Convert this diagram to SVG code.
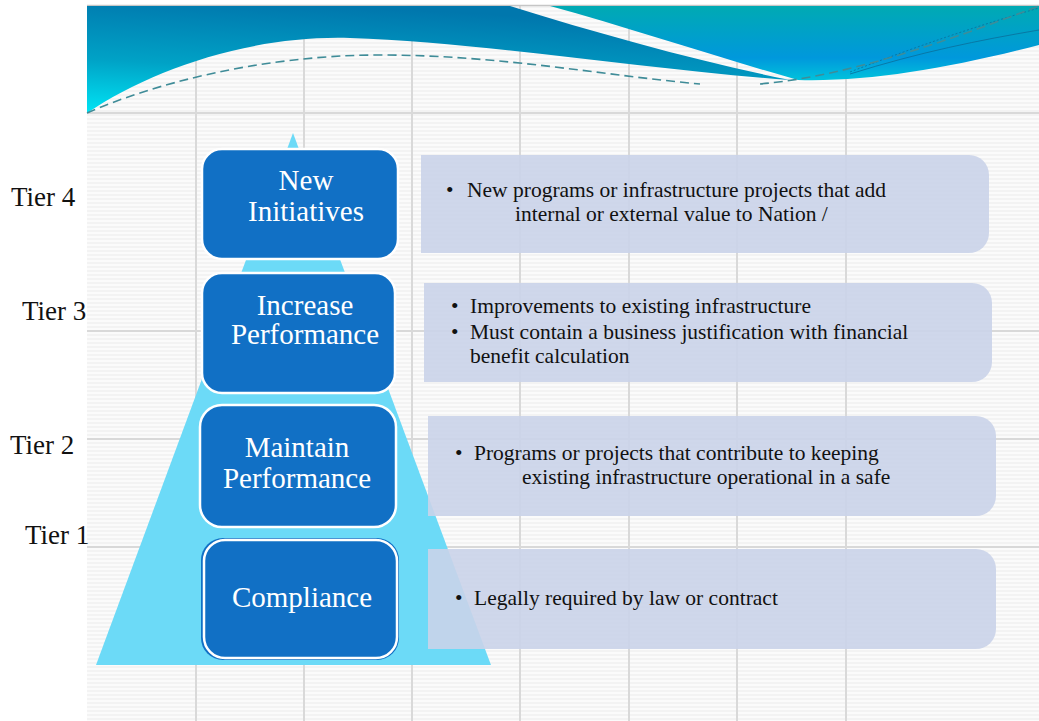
<svg xmlns="http://www.w3.org/2000/svg" width="1039" height="721" viewBox="0 0 1039 721">
  <defs>
    <pattern id="stripes" width="8" height="4" patternUnits="userSpaceOnUse">
      <rect width="8" height="4" fill="#fbfbfb"/>
      <rect y="2" width="8" height="2" fill="#f3f3f3"/>
    </pattern>
    <linearGradient id="waveLeft" x1="0.35" y1="0" x2="0" y2="1">
      <stop offset="0" stop-color="#0077ad"/>
      <stop offset="0.55" stop-color="#00a2c6"/>
      <stop offset="1" stop-color="#00e4f4"/>
    </linearGradient>
    <linearGradient id="waveRight" gradientUnits="userSpaceOnUse" x1="0" y1="6" x2="0" y2="80">
      <stop offset="0" stop-color="#00aab3"/>
      <stop offset="0.7" stop-color="#0098dc"/>
      <stop offset="1" stop-color="#00c2dc"/>
    </linearGradient>
    <style>
      .grid { stroke: #d9d9d9; stroke-width: 2; fill: none; }
      .tier { font-family: "Liberation Serif", "DejaVu Serif", serif; font-size: 27px; fill: #111; }
      .node rect.box { fill: #1170c5; stroke: #ffffff; stroke-width: 2.5; }
      .node text { font-family: "Liberation Serif", "DejaVu Serif", serif; font-size: 29px; fill: #ffffff; text-anchor: middle; }
      .desc path { fill: #cad3e9; fill-opacity: 0.9; }
      .desc text { font-family: "Liberation Serif", "DejaVu Serif", serif; font-size: 21.5px; fill: #111; }
    </style>
  </defs>

  <!-- page -->
  <rect width="1039" height="721" fill="#ffffff"/>
  <rect x="87" y="6" width="952" height="715" fill="url(#stripes)"/>

  <!-- grid -->
  <g id="grid">
    <line class="grid" x1="196" y1="6" x2="196" y2="721"/>
    <line class="grid" x1="304" y1="6" x2="304" y2="721"/>
    <line class="grid" x1="412" y1="6" x2="412" y2="721"/>
    <line class="grid" x1="520" y1="6" x2="520" y2="721"/>
    <line class="grid" x1="629" y1="6" x2="629" y2="721"/>
    <line class="grid" x1="737" y1="6" x2="737" y2="721"/>
    <line class="grid" x1="846" y1="6" x2="846" y2="721"/>
    <line class="grid" x1="87" y1="113" x2="1039" y2="113"/>
    <line class="grid" x1="87" y1="331" x2="1039" y2="331"/>
    <line class="grid" x1="87" y1="439" x2="1039" y2="439"/>
    <line class="grid" x1="87" y1="547" x2="1039" y2="547"/>
  </g>

  <!-- header waves -->
  <g id="banner">
    <line x1="87" y1="5.5" x2="1039" y2="5.5" stroke="#c6c6c6" stroke-width="1.5"/>
    <path d="M87,6 H510 C600,34 700,62 790,80 C650,70 480,42 350,38 C250,35 150,70 87,113 Z" fill="url(#waveLeft)"/>
    <path d="M550,6 H1039 V45 C950,68 870,82 798,80 C720,58 630,28 550,6 Z" fill="url(#waveRight)"/>
    <path d="M850,74 C920,52 980,40 1039,30" fill="none" stroke="#0a6f9a" stroke-width="0.8"/>
    <path d="M850,72 C920,45 980,25 1039,8" fill="none" stroke="#0a6f9a" stroke-width="0.8" stroke-dasharray="2 2"/>
    <path d="M87,113 C150,85 260,55 380,55 C500,55 600,75 700,84 M760,84 C850,76 950,40 1039,6" fill="none" stroke="#3f8c98" stroke-width="1.6" stroke-dasharray="9 5"/>
  </g>

  <!-- pyramid -->
  <polygon id="pyramid" points="293,133 491,665 96,665" fill="#6cdaf7"/>

  <!-- tier labels -->
  <g id="tiers">
    <text class="tier" x="11" y="206">Tier 4</text>
    <text class="tier" x="22" y="320">Tier 3</text>
    <text class="tier" x="10" y="454">Tier 2</text>
    <text class="tier" x="25" y="544">Tier 1</text>
  </g>

  <!-- descriptions -->
  <g id="desc-tier4" class="desc">
    <path d="M421,155 H969 A20,20 0 0 1 989,175 V233 A20,20 0 0 1 969,253 H421 Z"/>
    <text x="446" y="197">•</text>
    <text x="467" y="197">New programs or infrastructure projects that add</text>
    <text x="515" y="221">internal or external value to Nation /</text>
  </g>
  <g id="desc-tier3" class="desc">
    <path d="M424,283 H972 A20,20 0 0 1 992,303 V362 A20,20 0 0 1 972,382 H424 Z"/>
    <text x="451" y="313">•</text>
    <text x="470" y="313">Improvements to existing infrastructure</text>
    <text x="451" y="339">•</text>
    <text x="470" y="339">Must contain a business justification with financial</text>
    <text x="470" y="363">benefit calculation</text>
  </g>
  <g id="desc-tier2" class="desc">
    <path d="M428,416 H976 A20,20 0 0 1 996,436 V496 A20,20 0 0 1 976,516 H428 Z"/>
    <text x="455" y="460">•</text>
    <text x="474" y="460">Programs or projects that contribute to keeping</text>
    <text x="522" y="484">existing infrastructure operational in a safe</text>
  </g>
  <g id="desc-tier1" class="desc">
    <path d="M428,549 H976 A20,20 0 0 1 996,569 V629 A20,20 0 0 1 976,649 H428 Z"/>
    <text x="455" y="605">•</text>
    <text x="474" y="605">Legally required by law or contract</text>
  </g>

  <!-- tier nodes -->
  <g id="node-new-initiatives" class="node">
    <rect class="box" x="202" y="149" width="196" height="110" rx="20"/>
    <text x="306" y="190">New</text>
    <text x="306" y="221">Initiatives</text>
  </g>
  <g id="node-increase-performance" class="node">
    <rect class="box" x="202" y="273" width="193" height="120" rx="20"/>
    <text x="305" y="315">Increase</text>
    <text x="305" y="344">Performance</text>
  </g>
  <g id="node-maintain-performance" class="node">
    <rect class="box" x="200" y="405" width="196" height="122" rx="22"/>
    <text x="297" y="457">Maintain</text>
    <text x="297" y="488">Performance</text>
  </g>
  <g id="node-compliance" class="node">
    <rect x="201" y="538" width="198" height="122" rx="22" fill="#1170c5"/>
    <rect class="box" x="204" y="540" width="193" height="118" rx="21"/>
    <text x="302" y="607">Compliance</text>
  </g>
</svg>
